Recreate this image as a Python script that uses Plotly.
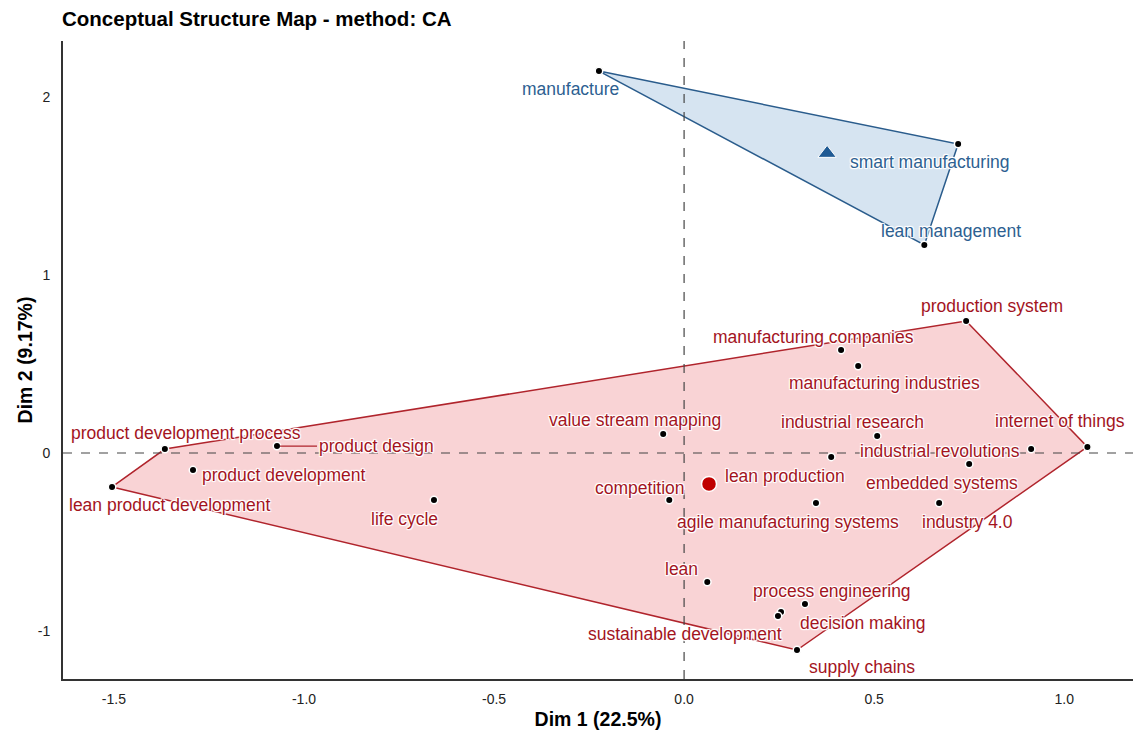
import plotly.graph_objects as go

# ---------------- data ----------------
red_terms = ["production system", "manufacturing companies", "manufacturing industries",
             "value stream mapping", "industrial research", "internet of things",
             "industrial revolutions", "lean production", "embedded systems", "competition",
             "agile manufacturing systems", "industry 4.0", "product development process",
             "product design", "product development", "lean product development", "life cycle",
             "lean", "process engineering", "decision making", "sustainable development",
             "supply chains"]
red_dim1 = [0.742, 0.413, 0.458, -0.055, 0.508, 1.061, 0.913, 0.387, 0.750, -0.039,
            0.347, 0.671, -1.366, -1.071, -1.292, -1.505, -0.658, 0.061, 0.318, 0.255,
            0.247, 0.297]
red_dim2 = [0.742, 0.579, 0.489, 0.107, 0.096, 0.034, 0.022, -0.022, -0.062, -0.264,
            -0.281, -0.281, 0.022, 0.039, -0.096, -0.191, -0.264, -0.725, -0.848, -0.893,
            -0.916, -1.107]

blue_terms = ["manufacture", "smart manufacturing", "lean management"]
blue_dim1 = [-0.224, 0.721, 0.632]
blue_dim2 = [2.146, 1.736, 1.169]

x_ticks = [-1.5, -1.0, -0.5, 0.0, 0.5, 1.0]
x_ticklabels = ["-1.5", "-1.0", "-0.5", "0.0", "0.5", "1.0"]
y_ticks = [-1, 0, 1, 2]
y_ticklabels = ["-1", "0", "1", "2"]

title = "Conceptual Structure Map - method: CA"
x_title = "Dim 1 (22.5%)"
y_title = "Dim 2 (9.17%)"

# label offsets in pixels (layout only)
red_label_offsets = [(26, -15), (-28, -13), (26, 17), (-28, -14), (-25, -14), (-27, -26),
                     (-91, 2), (-46, 19), (-27, 19), (-29, -12), (-28, 19), (28, 19),
                     (21, -16), (99, 0), (91, 5), (58, 18), (-29, 19), (-26, -13),
                     (27, -13), (81, 11), (-93, 18), (65, 17)]
blue_label_offsets = [(-28, 18), (-28, 18), (27, -14)]

RED_LINE = "#B0242C"
RED_FILL = "rgba(236, 110, 115, 0.30)"
RED_TEXT = "#A3141E"
BLUE_LINE = "#2A5C8C"
BLUE_FILL = "rgba(120, 165, 210, 0.30)"
BLUE_TEXT = "#2D5F91"
FONT = "Liberation Sans, Arial, sans-serif"
LABEL_SIZE = 17.5


def convex_hull(xs, ys):
    pts = sorted(set(zip(xs, ys)))
    if len(pts) <= 2:
        return pts

    def cross(o, a, b):
        return (a[0] - o[0]) * (b[1] - o[1]) - (a[1] - o[1]) * (b[0] - o[0])

    lower, upper = [], []
    for p in pts:
        while len(lower) >= 2 and cross(lower[-2], lower[-1], p) <= 0:
            lower.pop()
        lower.append(p)
    for p in reversed(pts):
        while len(upper) >= 2 and cross(upper[-2], upper[-1], p) <= 0:
            upper.pop()
        upper.append(p)
    return lower[:-1] + upper[:-1]


fig = go.Figure()

for xs, ys, line_c, fill_c in [(red_dim1, red_dim2, RED_LINE, RED_FILL),
                               (blue_dim1, blue_dim2, BLUE_LINE, BLUE_FILL)]:
    hull = convex_hull(xs, ys)
    hx = [p[0] for p in hull] + [hull[0][0]]
    hy = [p[1] for p in hull] + [hull[0][1]]
    fig.add_trace(go.Scatter(x=hx, y=hy, mode="lines", fill="toself",
                             fillcolor=fill_c, line=dict(color=line_c, width=1.5),
                             hoverinfo="skip", showlegend=False))

# points
fig.add_trace(go.Scatter(x=red_dim1 + blue_dim1, y=red_dim2 + blue_dim2, mode="markers",
                         marker=dict(color="black", size=7.5, line=dict(color="white", width=1.5)),
                         text=red_terms + blue_terms, hoverinfo="text", showlegend=False))

# centroids
rcx = sum(red_dim1) / len(red_dim1)
rcy = sum(red_dim2) / len(red_dim2)
bcx = sum(blue_dim1) / len(blue_dim1)
bcy = sum(blue_dim2) / len(blue_dim2)
fig.add_trace(go.Scatter(x=[rcx], y=[rcy], mode="markers",
                         marker=dict(color="#C00000", size=15, symbol="circle",
                                     line=dict(color="white", width=1.5)),
                         hoverinfo="skip", showlegend=False))
fig.add_trace(go.Scatter(x=[bcx], y=[bcy], mode="markers",
                         marker=dict(color="#1F5A94", size=16, symbol="triangle-up",
                                     line=dict(color="white", width=1)),
                         hoverinfo="skip", showlegend=False))

halo = ("1px 1px 1px white, -1px -1px 1px white, 1px -1px 1px white, "
        "-1px 1px 1px white, 0px 1px 1px white, 0px -1px 1px white")

annotations = []
for terms, xs, ys, offs, col in [(red_terms, red_dim1, red_dim2, red_label_offsets, RED_TEXT),
                                 (blue_terms, blue_dim1, blue_dim2, blue_label_offsets, BLUE_TEXT)]:
    for t, x, y, (dx, dy) in zip(terms, xs, ys, offs):
        if t == "product design":
            annotations.append(dict(x=x, y=y, xref="x", yref="y", text=t, showarrow=True,
                                    ax=dx, ay=dy, arrowhead=0, arrowwidth=1.2,
                                    arrowcolor=RED_LINE, standoff=3,
                                    font=dict(family=FONT, size=LABEL_SIZE, color=col, shadow=halo)))
        else:
            annotations.append(dict(x=x, y=y, xref="x", yref="y", text=t, showarrow=False,
                                    xshift=dx, yshift=-dy,
                                    font=dict(family=FONT, size=LABEL_SIZE, color=col, shadow=halo)))

# reference lines at the origin
shapes = [
    dict(type="line", xref="x", yref="paper", x0=0, x1=0, y0=0, y1=1,
         line=dict(color="#444444", width=1.2, dash="dash"), layer="above"),
    dict(type="line", xref="paper", yref="y", x0=0, x1=1, y0=0, y1=0,
         line=dict(color="#444444", width=1.2, dash="dash"), layer="above"),
]

fig.update_layout(
    width=1136, height=738,
    margin=dict(l=63, r=3, t=41, b=59),
    paper_bgcolor="white", plot_bgcolor="white",
    title=dict(text="<b>" + title + "</b>", x=62 / 1136, xanchor="left", y=1 - 19 / 738,
               yanchor="middle", font=dict(family=FONT, size=20.5, color="black")),
    xaxis=dict(range=[-1.634, 1.181], tickvals=x_ticks, ticktext=x_ticklabels,
               showgrid=False, zeroline=False, showline=True, linecolor="#333333",
               linewidth=2, ticks="", ticklabelstandoff=6,
               tickfont=dict(family=FONT, size=14, color="#222222"),
               title=dict(text="<b>" + x_title + "</b>", standoff=7,
                          font=dict(family=FONT, size=19.5, color="black"))),
    yaxis=dict(range=[-1.270, 2.315], tickvals=y_ticks, ticktext=y_ticklabels,
               showgrid=False, zeroline=False, showline=True, linecolor="#333333",
               linewidth=2, ticks="", ticklabelstandoff=8,
               tickfont=dict(family=FONT, size=14, color="#222222"),
               title=dict(text="<b>" + y_title + "</b>", standoff=0,
                          font=dict(family=FONT, size=19.5, color="black"))),
    annotations=annotations,
    shapes=shapes,
)

fig.write_html("out.html", config={"displayModeBar": False},
               post_script="document.body.style.margin='0px';")
